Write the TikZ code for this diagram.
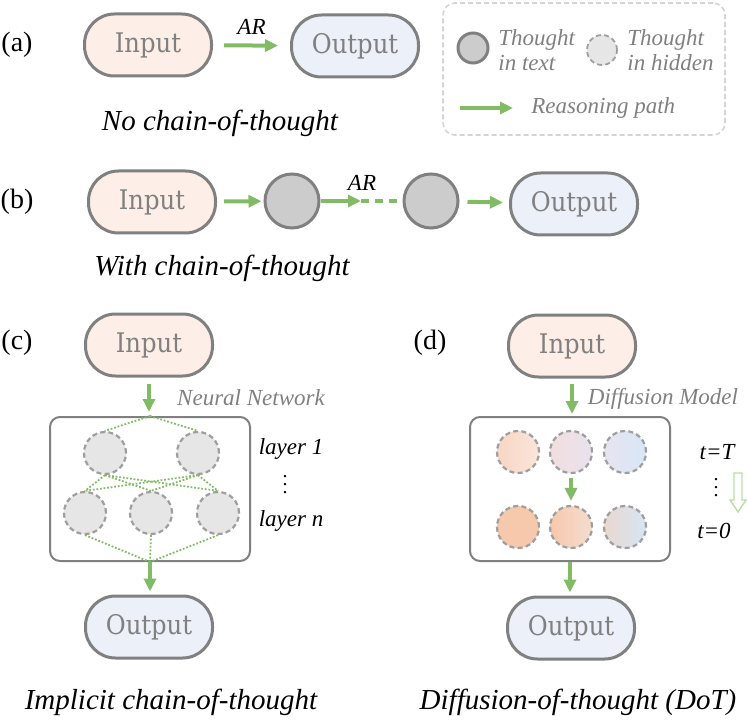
\documentclass[tikz,border=0pt]{standalone}
\usepackage{fontspec}
\setmainfont{Liberation Serif}
\newfontfamily\iofont[FakeStretch=0.9]{DejaVu Serif}
\usetikzlibrary{arrows.meta}
\definecolor{edgegray}{RGB}{128,128,128}
\definecolor{txtgray}{RGB}{128,128,128}
\definecolor{infill}{RGB}{253,239,231}
\definecolor{outfill}{RGB}{235,240,249}
\definecolor{thfill}{RGB}{204,204,204}
\definecolor{hidfill}{RGB}{230,230,230}
\definecolor{hiddraw}{RGB}{158,158,158}
\definecolor{pathgreen}{RGB}{130,187,101}
\definecolor{softgreen}{RGB}{184,222,164}
\definecolor{legendgray}{RGB}{212,212,212}
\definecolor{peachA}{RGB}{248,214,196}
\definecolor{peachB}{RGB}{250,229,219}
\definecolor{peachC}{RGB}{246,200,172}
\definecolor{peachD}{RGB}{245,221,207}
\definecolor{roseA}{RGB}{243,222,221}
\definecolor{roseB}{RGB}{232,226,239}
\definecolor{skyA}{RGB}{231,228,240}
\definecolor{skyB}{RGB}{216,231,246}
\definecolor{greyA}{RGB}{233,216,207}
\definecolor{greyB}{RGB}{215,229,244}

\tikzset{
  io/.style = {draw=edgegray, line width=1.5pt, rounded corners=15pt, minimum width=63.5pt,
    minimum height=31pt, inner sep=0pt, text=txtgray, font=\iofont\fontsize{13.5}{16}\selectfont},
  infill/.style = {io, fill=infill},
  outfill/.style = {io, fill=outfill},
  thtext/.style = {circle, draw=edgegray, line width=1.5pt, fill=thfill, inner sep=0pt},
  thhid/.style = {circle, draw=hiddraw, dashed, dash pattern=on 2.5pt off 1.6pt, line width=1.1pt,
    fill=hidfill, inner sep=0pt, minimum size=21pt},
  dmcirc/.style = {thhid, fill=none},
  panel/.style = {draw=edgegray, line width=1pt, rounded corners=5pt, minimum width=100pt,
    minimum height=72pt, inner sep=0pt},
  reason/.style = {-{Triangle[length=6.5pt, width=6pt]}, draw=pathgreen, line width=2pt},
  nnlink/.style = {draw=pathgreen, line width=0.9pt, dash pattern=on 0.9pt off 0.9pt},
  tag/.style = {font=\fontsize{14}{16}\selectfont},
  caption/.style = {font=\itshape\fontsize{14.5}{17}\selectfont},
  note/.style = {font=\itshape\fontsize{11.5}{12.5}\selectfont},
  greynote/.style = {note, text=txtgray, align=left, inner sep=0pt},
  vdot/.style = {inner sep=0pt, font=\fontsize{10}{10}\selectfont}
}

\begin{document}
\begin{tikzpicture}[x=0.5pt, y=-0.5pt]
\useasboundingbox (0, 0) rectangle (747, 721) ;

% (a)
\node(taga) at (17, 45) [tag] {(a)} ;
\node(inA) at (148, 45) [infill] {Input} ;
\node(outA) at (355, 46) [outfill] {Output} ;
\draw[reason, shorten <= 5.5pt, shorten >= 6pt] (inA) to node[midway, above=1pt, note] {AR} (outA) ;
\node(capa) at (220, 123) [caption] {No chain-of-thought} ;

% legend
\node(legend) at (584, 69) [draw=legendgray, dashed, dash pattern=on 2.5pt off 1.5pt, line width=0.8pt,
  rounded corners=6pt, minimum width=141pt, minimum height=66pt] {} ;
\node(legtext) at (473, 48) [thtext, minimum size=15pt] {} ;
\node(legtextlab) at (498, 50) [greynote, anchor=west] {Thought\\in text} ;
\node(leghid) at (602, 50) [thhid, minimum size=15pt, line width=0.9pt] {} ;
\node(leghidlab) at (627, 50) [greynote, anchor=west] {Thought\\in hidden} ;
\coordinate(legfrom) at (460, 108) ;
\coordinate(legto) at (513, 108) ;
\draw[reason] (legfrom) to (legto) ;
\node(legpathlab) at (531, 108) [greynote, anchor=west] {Reasoning path} ;

% (b)
\node(tagb) at (17, 202) [tag] {(b)} ;
\node(inB) at (152, 202) [infill] {Input} ;
\node(thA) at (292, 201) [thtext, minimum size=27pt] {} ;
\node(thB) at (431, 201) [thtext, minimum size=27pt] {} ;
\node(outB) at (574, 204) [outfill] {Output} ;
\coordinate(gap) at (361, 201) ;
\draw[reason, shorten <= 3.5pt, shorten >= 1pt] (inB) to (thA) ;
\draw[reason] (thA) to (gap) ;
\draw[draw=pathgreen, line width=2pt, dash pattern=on 4pt off 3pt] (gap) to (thB) ;
\node(arb) at (362, 183) [note] {AR} ;
\draw[reason, shorten <= 4pt, shorten >= 3pt] (thB) to (outB) ;
\node(capb) at (222, 268) [caption] {With chain-of-thought} ;

% (c)
\node(tagc) at (17, 343) [tag] {(c)} ;
\node(inC) at (149, 345) [infill] {Input} ;
\node(nnet) at (150, 489) [panel] {} ;
\node(outC) at (149, 627) [outfill] {Output} ;
\node(top1) at (105, 453) [thhid] {} ;
\node(top2) at (198, 453) [thhid] {} ;
\node(bot1) at (85, 513) [thhid] {} ;
\node(bot2) at (151, 513) [thhid] {} ;
\node(bot3) at (218, 513) [thhid] {} ;
\foreach \t in {top1, top2} {
  \draw[nnlink] (nnet.north) to (\t.north) ;
  \foreach \b in {bot1, bot2, bot3}
    \draw[nnlink] (\t.south) to (\b.north) ;
}
\foreach \b in {bot1, bot2, bot3}
  \draw[nnlink] (\b.south) to (nnet.south) ;
\draw[reason, shorten <= 3pt, shorten >= 2pt] (inC.south) to (inC.south |- nnet.north) ;
\draw[reason, shorten >= 1.5pt] (nnet.south) to (nnet.south |- outC.north) ;
\node(nnlab) at (251, 398) [greynote] {Neural Network} ;
\node(layer1) at (291, 449) [note] {layer 1} ;
\node(layerdots) at (285, 493) [vdot] {\smash{$\vdots$}} ;
\node(layern) at (291, 521) [note] {layer n} ;
\node(capc) at (171, 702) [caption] {Implicit chain-of-thought} ;

% (d)
\node(tagd) at (430, 343) [tag] {(d)} ;
\node(inD) at (572, 346) [infill] {Input} ;
\node(dmodel) at (570, 489) [panel] {} ;
\node(outD) at (571, 628) [outfill] {Output} ;
\node(dA) at (518, 452) [dmcirc, left color=peachA, right color=peachB] {} ;
\node(dB) at (571, 452) [dmcirc, left color=roseA, right color=roseB] {} ;
\node(dC) at (625, 452) [dmcirc, left color=skyA, right color=skyB] {} ;
\node(dD) at (518, 527) [dmcirc, fill=peachC] {} ;
\node(dE) at (571, 527) [dmcirc, left color=peachC, right color=peachD] {} ;
\node(dF) at (625, 527) [dmcirc, left color=greyA, right color=greyB] {} ;
\draw[reason, shorten <= 2pt, shorten >= 2pt] (dB) to (dE) ;
\draw[reason, shorten <= 2.5pt, shorten >= 1pt] (inD.south) to (inD.south |- dmodel.north) ;
\draw[reason, shorten >= 1.5pt] (dmodel.south) to (dmodel.south |- outD.north) ;
\node(dmlab) at (663, 399) [greynote] {Diffusion Model} ;
\node(tbig) at (717, 452) [note] {t=T} ;
\node(tdots) at (716, 496) [vdot] {\smash{$\vdots$}} ;
\node(tzero) at (714, 531) [note] {t=0} ;
\draw[softgreen, line width=0.7pt, line join=miter] (734, 473) -- (742, 473) -- (742, 500) -- (746, 500)
  -- (738, 512) -- (730, 500) -- (734, 500) -- cycle ;
\node(capd) at (578, 702) [caption] {Diffusion-of-thought (DoT)} ;
\end{tikzpicture}
\end{document}
